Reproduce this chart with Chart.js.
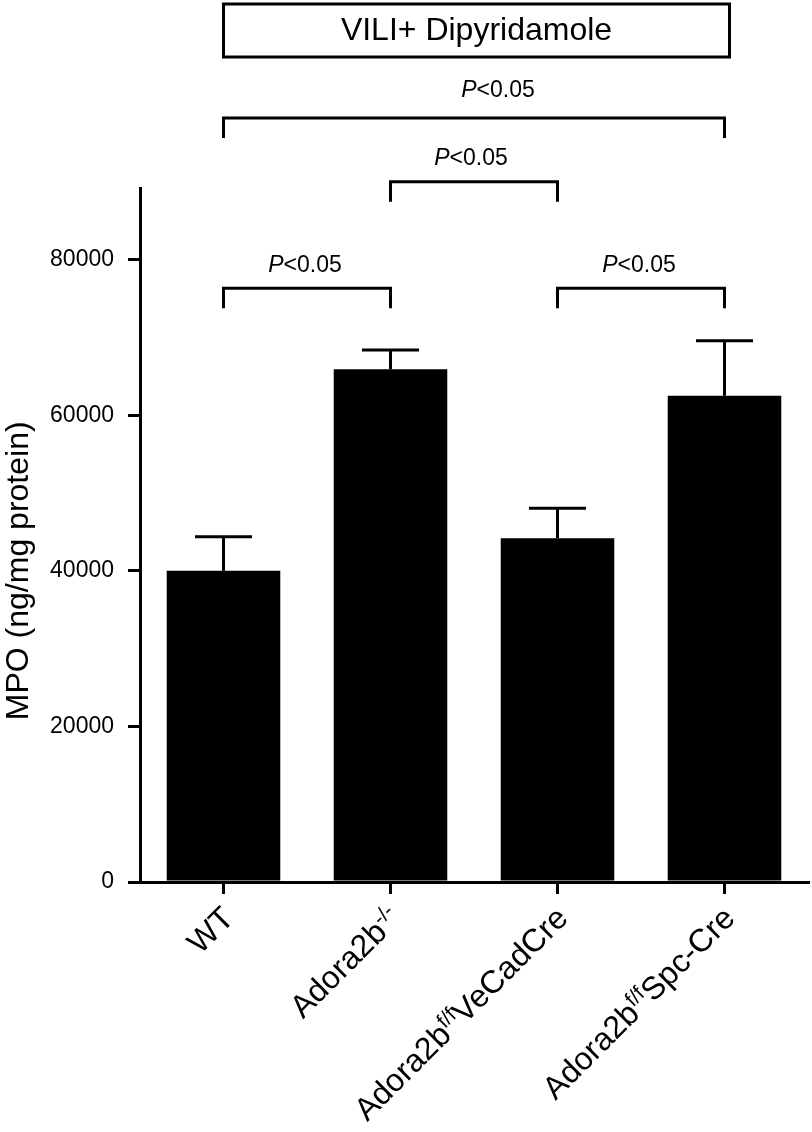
<!DOCTYPE html>
<html>
  <head>
    <title>MPO - VILI + Dipyridamole</title>
    <script src="https://cdn.jsdelivr.net/npm/chart.js@4.4.1/dist/chart.umd.min.js"></script>
    <style>
      body { margin: 0; background: #fff; }
      #container { width: 812px; height: 1132px; }
    </style>
  </head>

  <body>
    <div id="container">
      <canvas id="canvas"></canvas>
    </div>
    <script>
      // '^' toggles superscript in the category names
      const categories = ['WT', 'Adora2b^-/-', 'Adora2b^f/f^VeCadCre', 'Adora2b^f/f^Spc-Cre'];
      const mpoMean = [40000, 65900, 44170, 62510];
      const mpoSem = [4370, 2490, 3860, 7070];
      const yTicks = [0, 20000, 40000, 60000, 80000];
      // significance brackets: category pairs and the level of the bar (data units)
      const bracketPairs = [[0, 1], [2, 3], [1, 2], [0, 3]];
      const bracketLevels = [76300, 76300, 90000, 98200];
      const bracketLabels = ['P<0.05', 'P<0.05', 'P<0.05', 'P<0.05'];
      const panelTitle = 'VILI+ Dipyridamole';
      const yTitle = 'MPO (ng/mg protein)';

      const FONT = '"Liberation Sans", Arial, Helvetica, sans-serif';
      Chart.defaults.font.family = FONT;
      Chart.defaults.color = '#000';

      // label nudges (px) so the P values sit where they do in the figure
      const labelNudge = [{ dx: -2, dy: 0 }, { dx: -2, dy: 0 }, { dx: -3, dy: 0 }, { dx: 24, dy: -4 }];

      function splitSup(label) {
        return label.split('^').map((t, k) => ({ t, sup: k % 2 === 1 }));
      }

      const annotate = {
        id: 'annotate',
        afterDatasetsDraw(chart) {
          const { ctx, scales: { x, y } } = chart;
          ctx.save();
          ctx.strokeStyle = '#000';
          ctx.fillStyle = '#000';
          ctx.lineWidth = 3;
          ctx.lineJoin = 'miter';

          // error bars, upper half only
          mpoMean.forEach((m, i) => {
            const px = x.getPixelForValue(i);
            const y0 = y.getPixelForValue(m);
            const y1 = y.getPixelForValue(m + mpoSem[i]);
            ctx.beginPath();
            ctx.moveTo(px, y0);
            ctx.lineTo(px, y1);
            ctx.moveTo(px - 28.5, y1);
            ctx.lineTo(px + 28.5, y1);
            ctx.stroke();
          });

          // brackets with P values
          bracketPairs.forEach(([a, b], k) => {
            const xa = x.getPixelForValue(a);
            const xb = x.getPixelForValue(b);
            const ly = y.getPixelForValue(bracketLevels[k]);
            ctx.beginPath();
            ctx.moveTo(xa, ly + 20);
            ctx.lineTo(xa, ly);
            ctx.lineTo(xb, ly);
            ctx.lineTo(xb, ly + 20);
            ctx.stroke();

            const txt = bracketLabels[k];
            ctx.font = 'italic 23px ' + FONT;
            const wP = ctx.measureText(txt[0]).width;
            ctx.font = '23px ' + FONT;
            const wRest = ctx.measureText(txt.slice(1)).width;
            let tx = (xa + xb) / 2 - (wP + wRest) / 2 + labelNudge[k].dx;
            const ty = ly - 23 + labelNudge[k].dy;
            ctx.textBaseline = 'middle';
            ctx.textAlign = 'left';
            ctx.font = 'italic 23px ' + FONT;
            ctx.fillText(txt[0], tx, ty);
            ctx.font = '23px ' + FONT;
            ctx.fillText(txt.slice(1), tx + wP, ty);
          });

          // panel title box
          const bl = x.getPixelForValue(0);
          const br = x.getPixelForValue(categories.length - 1) + 5;
          ctx.strokeRect(bl, 4, br - bl, 53);
          ctx.font = '32px ' + FONT;
          ctx.textAlign = 'center';
          ctx.textBaseline = 'middle';
          ctx.fillText(panelTitle, (bl + br) / 2, 31);

          // y axis title, centred on the tick range
          const yc = (y.getPixelForValue(yTicks[0]) + y.getPixelForValue(yTicks[yTicks.length - 1])) / 2;
          ctx.save();
          ctx.translate(19, yc);
          ctx.rotate(-Math.PI / 2);
          ctx.fillText(yTitle, 0, 0);
          ctx.restore();

          // rotated category labels with superscripts
          categories.forEach((lab, i) => {
            const parts = splitSup(lab);
            const widths = parts.map(p => {
              ctx.font = (p.sup ? '21px ' : '32px ') + FONT;
              return ctx.measureText(p.t).width;
            });
            const total = widths.reduce((s, w) => s + w, 0);
            ctx.save();
            ctx.translate(x.getPixelForValue(i) + 12, chart.chartArea.bottom + 38);
            ctx.rotate(-Math.PI / 4);
            ctx.textAlign = 'left';
            ctx.textBaseline = 'alphabetic';
            let cx = -total;
            parts.forEach((p, k) => {
              ctx.font = (p.sup ? '21px ' : '32px ') + FONT;
              ctx.fillText(p.t, cx, p.sup ? -11 : 0);
              cx += widths[k];
            });
            ctx.restore();
          });

          ctx.restore();
        },
      };

      window.onload = () => {
        const ctx = document.getElementById('canvas').getContext('2d');
        window.myBar = new Chart(ctx, {
          type: 'bar',
          data: {
            labels: categories.map(c => c.replace(/\^/g, '')),
            datasets: [
              {
                label: 'MPO',
                data: mpoMean,
                backgroundColor: '#000',
                borderWidth: 0,
                barPercentage: 0.68,
                categoryPercentage: 1,
              },
            ],
          },
          options: {
            responsive: true,
            maintainAspectRatio: false,
            animation: false,
            devicePixelRatio: 1,
            layout: {
              padding: { top: 188, right: 4, bottom: 0, left: 0 },
            },
            plugins: {
              legend: { display: false },
              tooltip: { enabled: false },
            },
            scales: {
              x: {
                offset: true,
                grid: {
                  offset: false,
                  drawOnChartArea: false,
                  drawTicks: true,
                  tickLength: 12,
                  lineWidth: 3,
                  color: '#000',
                },
                border: { display: true, color: '#000', width: 3 },
                ticks: { display: false },
                afterFit: (scale) => { scale.height = 250; },
              },
              y: {
                min: 0,
                max: 89200,
                grid: {
                  drawOnChartArea: false,
                  drawTicks: true,
                  tickLength: 12,
                  lineWidth: 3,
                  color: '#000',
                },
                border: { display: true, color: '#000', width: 3 },
                ticks: {
                  padding: 14,
                  font: { size: 23 },
                  color: '#000',
                  includeBounds: false,
                  callback: (v) => String(v),
                },
                afterBuildTicks: (scale) => {
                  scale.ticks = yTicks.map(v => ({ value: v }));
                },
                afterFit: (scale) => { scale.width = 140; },
              },
            },
          },
          plugins: [annotate],
        });
      };
    </script>
  </body>
</html>
